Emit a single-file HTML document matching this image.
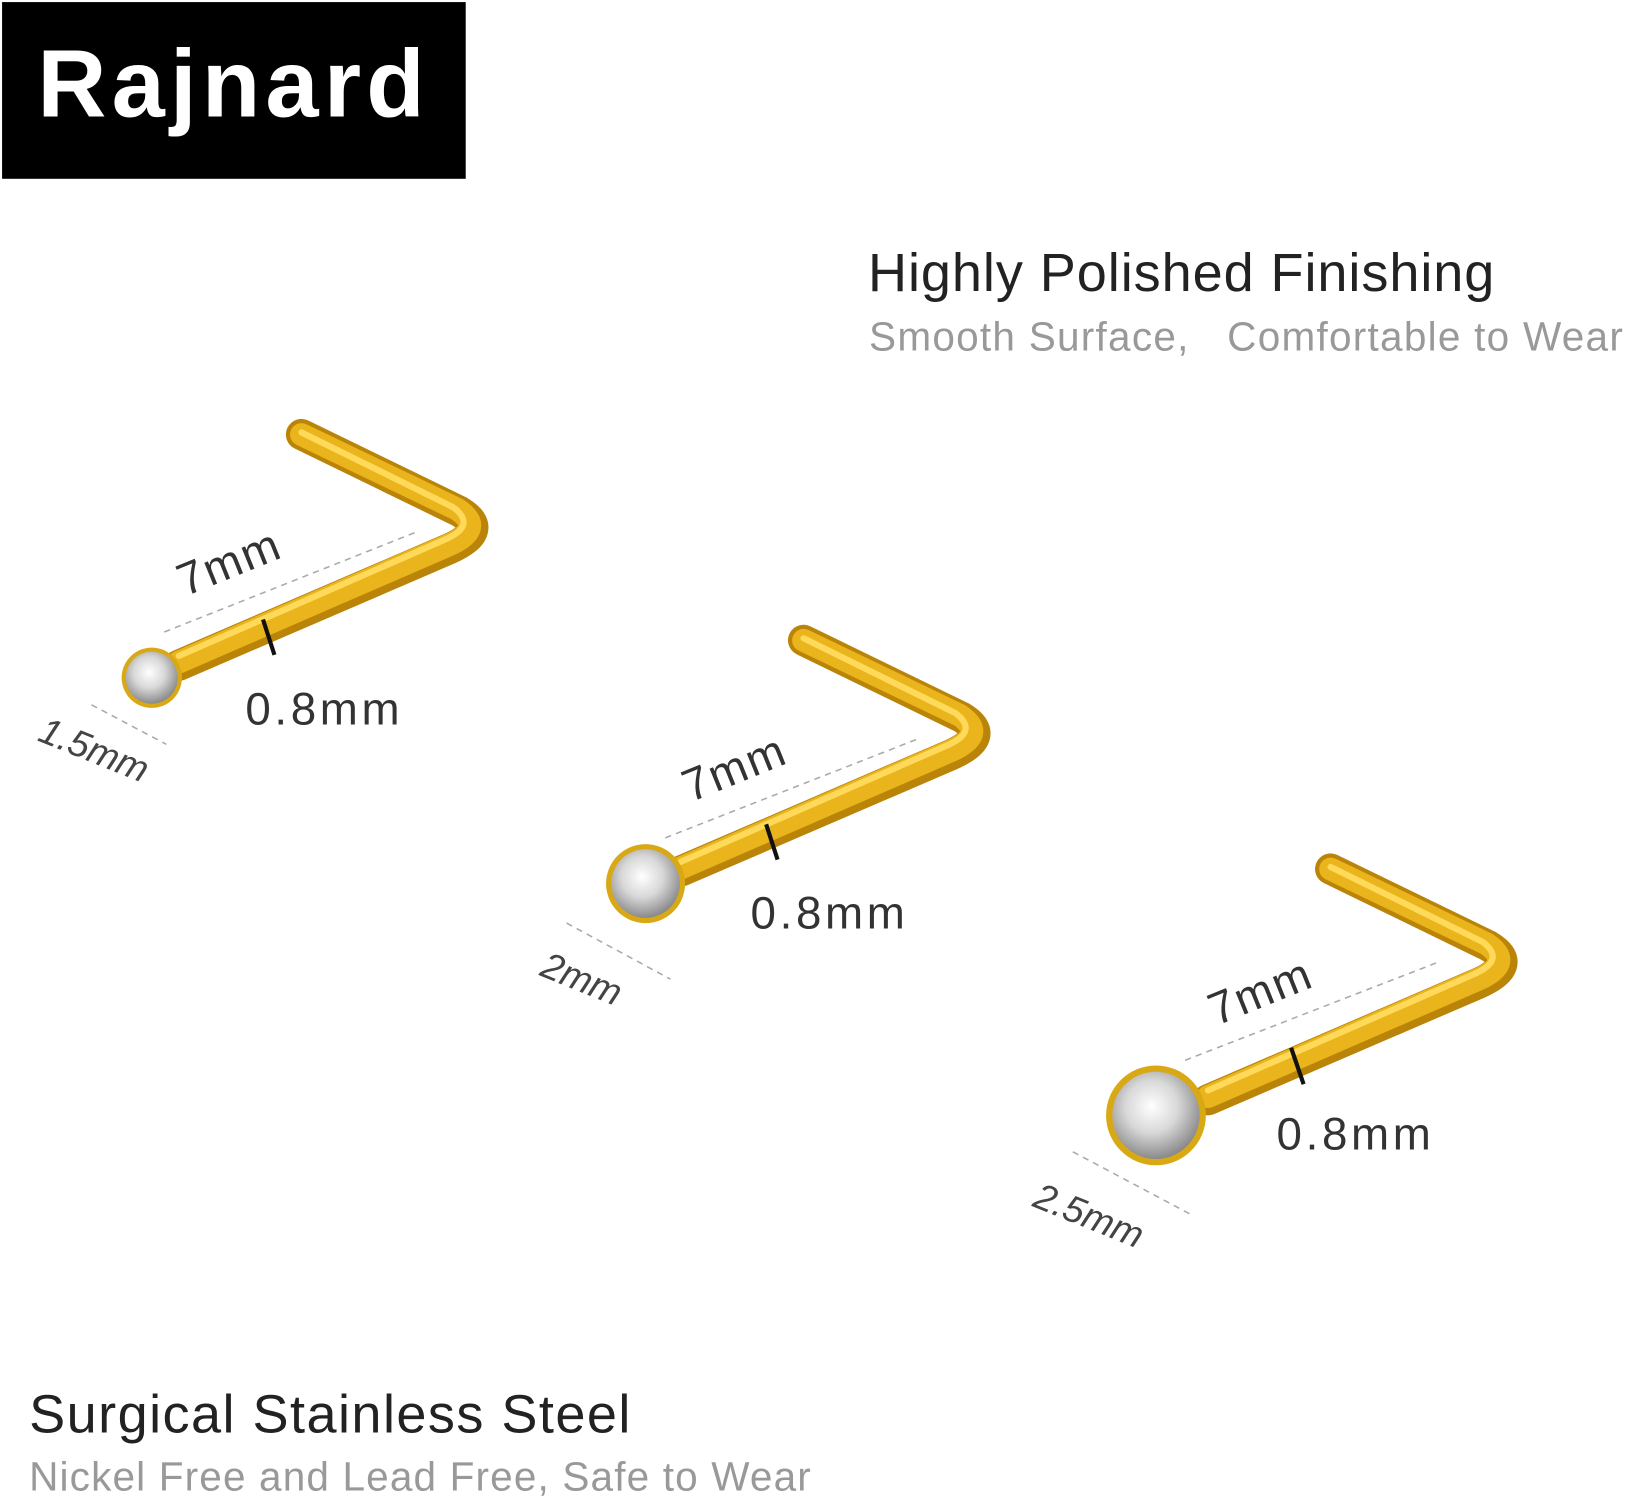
<!DOCTYPE html>
<html><head><meta charset="utf-8"><style>
html,body{margin:0;padding:0;background:#fff;width:1630px;height:1500px;overflow:hidden}
svg{display:block}
text{font-family:"Liberation Sans","Noto Sans CJK SC",sans-serif}
</style></head><body>
<svg width="1630" height="1500" viewBox="0 0 1568 1443" preserveAspectRatio="none" xmlns="http://www.w3.org/2000/svg">
<defs>
<radialGradient id="gem" cx="45%" cy="40%" r="60%">
<stop offset="0" stop-color="#ffffff"/><stop offset="0.5" stop-color="#d8d8d8"/><stop offset="1" stop-color="#8a8a8a"/>
</radialGradient>
<g id="bar">
<path d="M0,0 L260,-112 Q300,-130 270,-148 L118,-222" fill="none" stroke="#b98408" stroke-width="30" stroke-linejoin="round" stroke-linecap="round"/>
<path d="M0,-3 L258,-115 Q296,-131 268,-150 L118,-222" fill="none" stroke="#e9b41c" stroke-width="22" stroke-linejoin="round" stroke-linecap="round"/>
<path d="M0,-9 L254,-120 Q288,-134 264,-152 L118,-224" fill="none" stroke="#ffd95a" stroke-width="6" stroke-linejoin="round" stroke-linecap="round"/>
</g>
</defs>
<rect x="2" y="2" width="446" height="170" fill="#000"/>
<text x="36" y="112" font-size="92" font-weight="bold" fill="#fff" letter-spacing="5">Rajnard</text>
<text x="835" y="280" font-size="52" fill="#222" letter-spacing="0.9">Highly Polished Finishing</text>
<text x="836" y="337" font-size="39" fill="#999" letter-spacing="1.2" xml:space="preserve">Smooth Surface,   Comfortable to Wear</text>
<text x="28" y="1378" font-size="52" fill="#222" letter-spacing="1.4">Surgical Stainless Steel</text>
<text x="28" y="1434" font-size="39" fill="#999" letter-spacing="1.1">Nickel Free and Lead Free, Safe to Wear</text>

<!-- pin 1 -->
<g>
<line x1="158" y1="608" x2="400" y2="512" stroke="#aaa" stroke-width="1.5" stroke-dasharray="6,5"/>
<line x1="88" y1="678" x2="160" y2="716" stroke="#aaa" stroke-width="1.5" stroke-dasharray="6,5"/>
<use href="#bar" transform="translate(172,640)"/>
<circle cx="146" cy="652" r="29" fill="#d9a815"/>
<circle cx="146" cy="652" r="25" fill="url(#gem)"/>
<line x1="253" y1="596" x2="264" y2="630" stroke="#111" stroke-width="4"/>
<text x="0" y="0" font-size="44" fill="#333" letter-spacing="2" transform="translate(178,574) rotate(-22)">7mm</text>
<text x="236" y="697" font-size="44" fill="#333" letter-spacing="3.5">0.8mm</text>
<text x="0" y="0" font-size="36" font-style="italic" fill="#444" transform="translate(35,712) rotate(22)">1.5mm</text>
</g>
<!-- pin 2 -->
<g>
<line x1="640" y1="806" x2="885" y2="710" stroke="#aaa" stroke-width="1.5" stroke-dasharray="6,5"/>
<line x1="545" y1="888" x2="645" y2="942" stroke="#aaa" stroke-width="1.5" stroke-dasharray="6,5"/>
<use href="#bar" transform="translate(655,838)"/>
<circle cx="621" cy="850" r="38" fill="#d9a815"/>
<circle cx="621" cy="850" r="33" fill="url(#gem)"/>
<line x1="737" y1="793" x2="748" y2="827" stroke="#111" stroke-width="4"/>
<text x="0" y="0" font-size="44" fill="#333" letter-spacing="2" transform="translate(664,772) rotate(-22)">7mm</text>
<text x="722" y="893" font-size="44" fill="#333" letter-spacing="3.5">0.8mm</text>
<text x="0" y="0" font-size="36" font-style="italic" fill="#444" transform="translate(518,938) rotate(22)">2mm</text>
</g>
<!-- pin 3 -->
<g>
<line x1="1140" y1="1020" x2="1385" y2="925" stroke="#aaa" stroke-width="1.5" stroke-dasharray="6,5"/>
<line x1="1032" y1="1108" x2="1145" y2="1168" stroke="#aaa" stroke-width="1.5" stroke-dasharray="6,5"/>
<use href="#bar" transform="translate(1162,1058)"/>
<circle cx="1112" cy="1073" r="48" fill="#d9a815"/>
<circle cx="1112" cy="1073" r="42" fill="url(#gem)"/>
<line x1="1242" y1="1008" x2="1254" y2="1043" stroke="#111" stroke-width="4"/>
<text x="0" y="0" font-size="44" fill="#333" letter-spacing="2" transform="translate(1170,987) rotate(-22)">7mm</text>
<text x="1228" y="1106" font-size="44" fill="#333" letter-spacing="3.5">0.8mm</text>
<text x="0" y="0" font-size="36" font-style="italic" fill="#444" transform="translate(992,1160) rotate(22)">2.5mm</text>
</g>
</svg>
</body></html>
